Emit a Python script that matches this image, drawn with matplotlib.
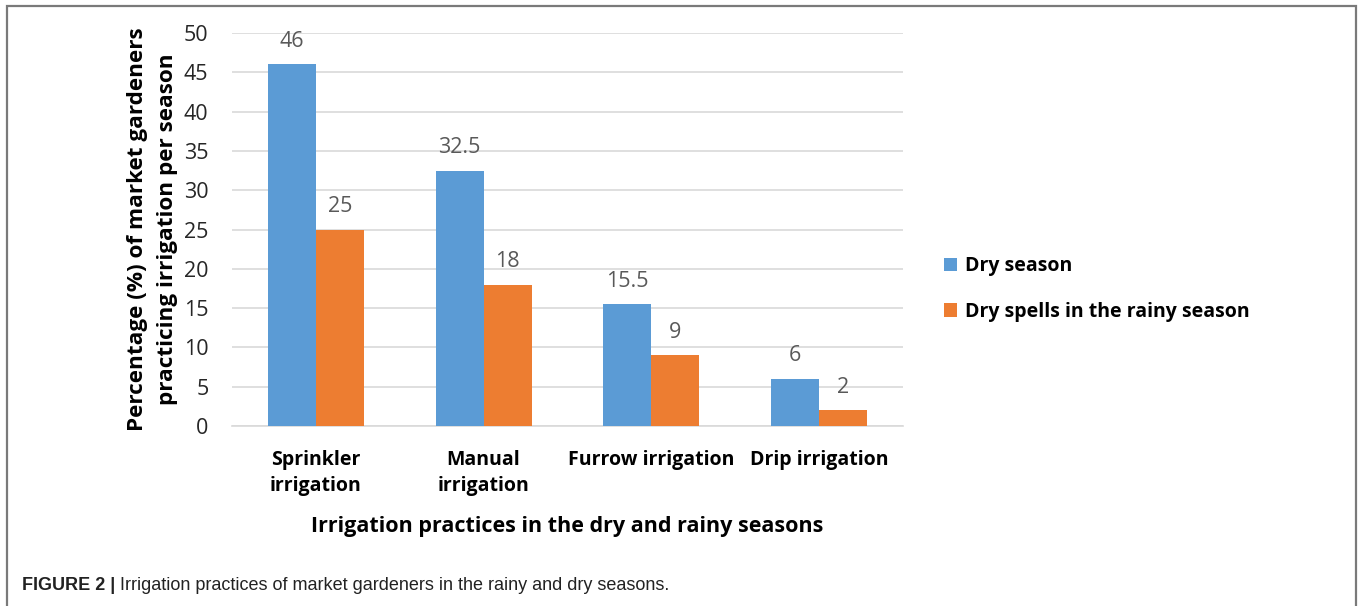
import matplotlib
matplotlib.use("Agg")
import matplotlib.pyplot as plt
from matplotlib.patches import Rectangle
import numpy as np

categories = ["Sprinkler\nirrigation", "Manual\nirrigation", "Furrow irrigation", "Drip irrigation"]
dry_season = [46, 32.5, 15.5, 6]
dry_spells = [25, 18, 9, 2]
series_names = ["Dry season", "Dry spells in the rainy season"]
yticks = [0, 5, 10, 15, 20, 25, 30, 35, 40, 45, 50]

blue = "#5b9bd5"
orange = "#ed7d31"
font = "Open Sans"

fig = plt.figure(figsize=(13.58, 6.06), dpi=100)
ax = fig.add_axes([232/1358, 1-426/606, 671/1358, 393/606])

x = np.arange(len(categories))
w = 0.286
b1 = ax.bar(x - w/2, dry_season, w, color=blue, label=series_names[0], zorder=3)
b2 = ax.bar(x + w/2, dry_spells, w, color=orange, label=series_names[1], zorder=3)

def fmt(v):
    return f"{v:g}"

for bars, vals in ((b1, dry_season), (b2, dry_spells)):
    for r, v in zip(bars, vals):
        ax.annotate(fmt(v), (r.get_x() + r.get_width()/2, v), xytext=(0, 9),
                    textcoords="offset points", ha="center", va="bottom",
                    fontsize=15.5, color="#595959", family=font)

ax.set_xlim(-0.5, len(categories) - 0.5)
ax.set_ylim(0, 50)
ax.set_yticks(yticks)
ax.set_yticklabels([str(t) for t in yticks], fontsize=15.5, color="#262626", family=font)
ax.set_xticks(x)
ax.set_xticklabels(categories, fontsize=14, fontweight="bold", color="black", family=font,
                   linespacing=1.45, va="top")
ax.tick_params(axis="both", length=0)
ax.tick_params(axis="x", pad=17)
ax.tick_params(axis="y", pad=17)
ax.grid(axis="y", color="#d9d9d9", linewidth=1.2, zorder=0)
for s in ["top", "right", "left"]:
    ax.spines[s].set_visible(False)
ax.spines["bottom"].set_color("#d9d9d9")
ax.spines["bottom"].set_linewidth(1.2)

ax.set_ylabel("Percentage (%) of market gardeners\npracticing irrigation per season",
              fontsize=16.2, fontweight="bold", family=font, linespacing=1.6, labelpad=4)
ax.set_xlabel("Irrigation practices in the dry and rainy seasons",
              fontsize=15.5, fontweight="bold", family=font, labelpad=14)

leg = fig.legend(handles=[b1, b2], labels=series_names, loc="center left",
                 bbox_to_anchor=(926/1358, 1-289/606), frameon=False,
                 prop={"family": font, "weight": "bold", "size": 14},
                 handlelength=0.7, handleheight=0.7, handletextpad=0.4, labelspacing=1.3)

fig.add_artist(Rectangle((7/1358, -0.05), (1356-7)/1358, 1.05 - 6/606,
                         transform=fig.transFigure, fill=False,
                         edgecolor="#7a7a7a", linewidth=1.6))

fig.text(22/1358, 1-586/606, "FIGURE 2 |", fontsize=13, fontweight="bold",
         family="Liberation Sans", color="#222222", va="center", ha="left")
fig.text(120/1358, 1-586/606, "Irrigation practices of market gardeners in the rainy and dry seasons.",
         fontsize=13, family="Liberation Sans", color="#222222", va="center", ha="left")

fig.savefig("out.png", dpi=100)
